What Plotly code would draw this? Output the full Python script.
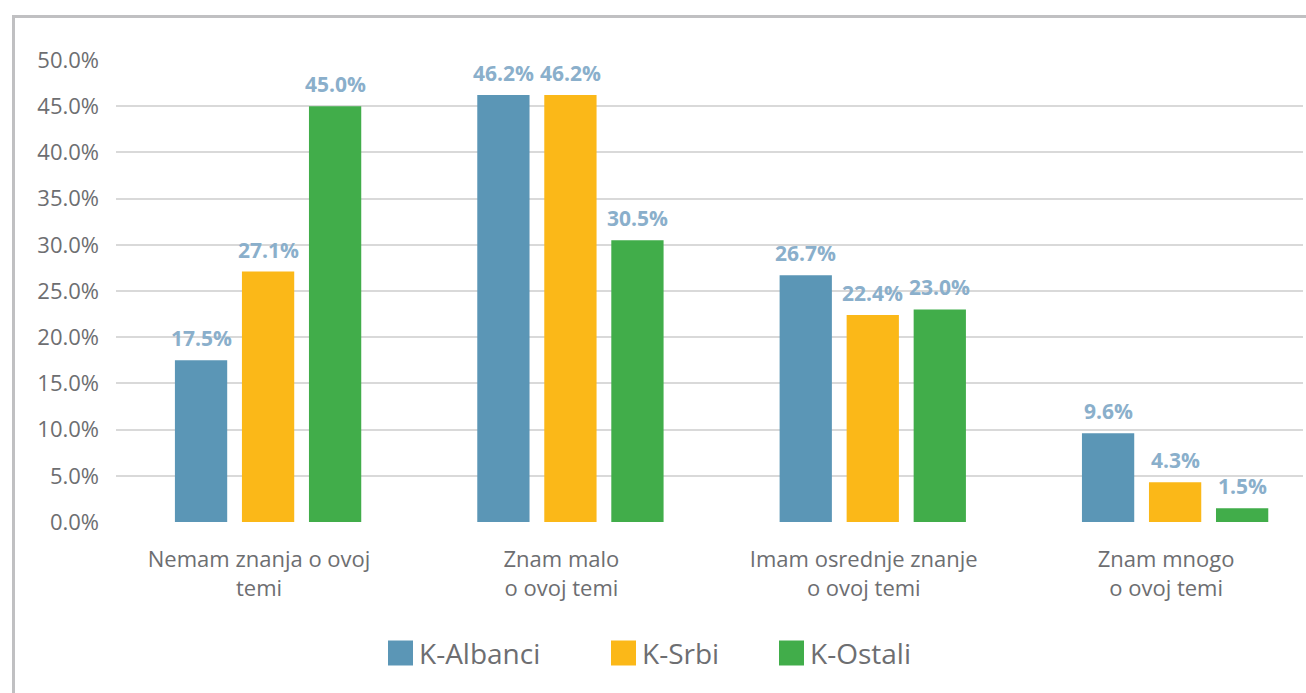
import plotly.graph_objects as go

categories = ["Nemam znanja o ovoj<br>temi", "Znam malo<br>o ovoj temi",
              "Imam osrednje znanje<br>o ovoj temi", "Znam mnogo<br>o ovoj temi"]
series_names = ["K-Albanci", "K-Srbi", "K-Ostali"]
albanci = [17.5, 46.2, 26.7, 9.6]
srbi = [27.1, 46.2, 22.4, 4.3]
ostali = [45.0, 30.5, 23.0, 1.5]
y_ticks = [0, 5, 10, 15, 20, 25, 30, 35, 40, 45, 50]

values = [albanci, srbi, ostali]
colors = ["#5B96B6", "#FBB818", "#41AD4A"]
label_color = "#8AAFCB"
text_color = "#6D6E71"
FONT = "Open Sans"

W, H = 1306, 693
ML, MR, MT, MB = 116, 3, 60, 171
PW, PH = W - ML - MR, H - MT - MB

x_idx = list(range(len(categories)))
bargap = 0.335
bargroupgap = 0.22
slot = (1 - bargap) / len(series_names)

fig = go.Figure()
for j, (name, vals, col) in enumerate(zip(series_names, values, colors)):
    fig.add_trace(go.Bar(x=x_idx, y=vals, name=name, marker_color=col,
                         marker_line_width=0, showlegend=False))

annotations = []
for j, vals in enumerate(values):
    off = (j - (len(series_names) - 1) / 2) * slot
    for i, v in enumerate(vals):
        annotations.append(dict(x=i + off, y=v, xref="x", yref="y",
                                text=f"<b>{v:.1f}%</b>", showarrow=False,
                                yshift=22, font=dict(family=FONT, size=21, color=label_color)))

# manual legend (large square symbols)
def px_x(p):
    return (p - ML) / PW

def px_y(p):
    return (H - MB - p) / PH

shapes = []
leg_starts = [388, 611, 779]
sq = 25
leg_cy = 653
for s, name, col in zip(leg_starts, series_names, colors):
    shapes.append(dict(type="rect", xref="paper", yref="paper",
                       x0=px_x(s), x1=px_x(s + sq), y0=px_y(leg_cy + sq / 2), y1=px_y(leg_cy - sq / 2),
                       fillcolor=col, line_width=0))
    annotations.append(dict(x=px_x(s + sq + 4), y=px_y(leg_cy), xref="paper", yref="paper",
                            xanchor="left", yanchor="middle", text=name, showarrow=False,
                            font=dict(family=FONT, size=28, color=text_color)))

# outer frame
shapes.append(dict(type="rect", xref="paper", yref="paper",
                   x0=px_x(13.5), x1=px_x(1330), y0=px_y(720), y1=px_y(16.5),
                   line=dict(color="#C0C0C2", width=3), fillcolor="rgba(0,0,0,0)", layer="below"))

fig.update_layout(
    width=W, height=H,
    margin=dict(l=ML, r=MR, t=MT, b=MB),
    paper_bgcolor="white", plot_bgcolor="white",
    barmode="group", bargap=bargap, bargroupgap=bargroupgap,
    font=dict(family=FONT, color=text_color),
    annotations=annotations, shapes=shapes,
    showlegend=False,
)
fig.update_xaxes(range=[-0.503, 3.423], tickvals=x_idx, ticktext=categories,
                 showgrid=False, zeroline=False, showline=False,
                 tickfont=dict(family=FONT, size=22, color=text_color),
                 ticks="", ticklabelstandoff=22, ticklabelshift=-9)
fig.update_yaxes(range=[0, 50], tickvals=y_ticks, ticktext=[f"{v:.1f}%" for v in y_ticks],
                 showgrid=True, gridcolor="#D9D9D9", gridwidth=2, zeroline=False, showline=False,
                 tickfont=dict(family=FONT, size=22, color=text_color),
                 ticks="", ticklabelstandoff=16)

fig.write_html("out.html", config={"displayModeBar": False},
               post_script="document.body.style.margin='0';document.body.style.overflow='hidden';")
